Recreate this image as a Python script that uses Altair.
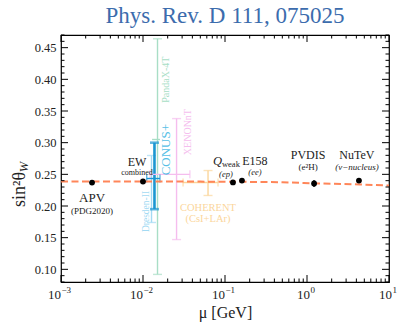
import altair as alt
import pandas as pd

SERIF = "Liberation Serif"

# Precision determinations (black points)
pt_name = ["APV", "EW", "Qweak", "E158", "PVDIS", "NuTeV"]
pt_mu = [0.00239, 0.0100, 0.125, 0.161, 1.22, 4.3]
pt_val = [0.2370, 0.2387, 0.2372, 0.2402, 0.2355, 0.2402]
pt_err = [0.0018, 0.0016, 0.0022, 0.0020, 0.0050, 0.0020]

# CEvNS determinations: vertical bands
ce_name = ["PandaX-4T", "XENONnT", "COHERENT", "Dresden-II", "CONUS+"]
ce_mu = [0.01503, 0.02566, 0.0621, 0.0127, 0.0138]
ce_lo = [0.092, 0.147, 0.2166, 0.174, 0.195]
ce_hi = [0.464, 0.338, 0.256, 0.2797, 0.300]

# CEvNS determinations: momentum-transfer ranges
hb_name = ["PandaX-4T", "XENONnT", "COHERENT", "CONUS+"]
hb_val = [0.305, 0.250, 0.237, 0.2434]
hb_lo = [0.0129, 0.0122, 0.0308, 0.0111]
hb_hi = [0.0161, 0.0373, 0.0822, 0.0161]

# SM running of the weak mixing angle
run_mu = [0.001, 0.01, 0.05, 0.15, 0.5, 1.4, 4.4, 10.0]
run_val = [0.2386, 0.2386, 0.2385, 0.2382, 0.2374, 0.2356, 0.2340, 0.2323]

# Axis ticks and decade labels
x_major = [0.001, 0.01, 0.1, 1.0, 10.0]
x_exp = ["−3", "−2", "−1", "0", "1"]
x_minor = [k * 10.0 ** d for d in range(-3, 1) for k in range(2, 10)]
y_major = [0.10, 0.15, 0.20, 0.25, 0.30, 0.35, 0.40, 0.45]
y_minor = [round(0.08 + 0.01 * i, 2) for i in range(40)]
y_minor = [v for v in y_minor if all(abs(v - m) > 1e-6 for m in y_major)]

bar_color = {
    "PandaX-4T": "#a8dec6",
    "XENONnT": "#f5bdee",
    "COHERENT": "#fbd69b",
    "Dresden-II": "#a3daf3",
    "CONUS+": "#1b96d2",
}
text_color = dict(bar_color, **{"CONUS+": "#57bfe6"})
bar_width = {"CONUS+": 2.6}
INK = "#222222"

W, H = 328, 247
xs = alt.Scale(type="log", domain=[1e-3, 10], nice=False)
ys = alt.Scale(domain=[0.08, 0.47], nice=False, zero=False)

x_axis = alt.Axis(values=x_major, title="μ [GeV]", labels=False,
                  titleFontSize=16, titlePadding=22)
y_axis = alt.Axis(
    values=y_major, format=".2f", title="sin²θ", labelFontSize=12.5,
    labelPadding=5, titleFontSize=18, titleAngle=270, titleX=-37, titleY=154,
    titleAlign="center", titleBaseline="alphabetic",
)


# Every layer shares the same scales and axis definitions
def xq(f):
    return alt.X(f, type="quantitative", scale=xs, axis=x_axis)


def yq(f):
    return alt.Y(f, type="quantitative", scale=ys, axis=y_axis)


layers = []

# CEvNS vertical error bars with caps
for i, n in enumerate(ce_name):
    d = pd.DataFrame({"mu": [ce_mu[i]], "lo": [ce_lo[i]], "hi": [ce_hi[i]]})
    sw = bar_width.get(n, 1.4)
    c = bar_color[n]
    layers.append(alt.Chart(d).mark_rule(color=c, strokeWidth=sw).encode(
        x=xq("mu"), y=yq("lo"), y2="hi"))
    for end in ["lo", "hi"]:
        layers.append(alt.Chart(d).mark_tick(
            color=c, orient="horizontal", size=9, thickness=sw).encode(
            x=xq("mu"), y=yq(end)))

# CEvNS horizontal ranges
for i, n in enumerate(hb_name):
    d = pd.DataFrame({"lo": [hb_lo[i]], "hi": [hb_hi[i]], "v": [hb_val[i]]})
    c = bar_color[n]
    layers.append(alt.Chart(d).mark_rule(color=c, strokeWidth=1.4).encode(
        x=xq("lo"), x2="hi", y=yq("v")))
    if n != "PandaX-4T":
        for end in ["lo", "hi"]:
            layers.append(alt.Chart(d).mark_tick(
                color=c, orient="vertical", size=8, thickness=1.4).encode(
                x=xq(end), y=yq("v")))

# SM running curve
run_df = pd.DataFrame({"mu": run_mu, "v": run_val})
layers.append(alt.Chart(run_df).mark_line(
    color="#ff7f50", strokeWidth=2, strokeDash=[7, 3.5], interpolate="monotone",
    opacity=0.95).encode(x=xq("mu"), y=yq("v")))

# Precision points
pt_df = pd.DataFrame({"mu": pt_mu, "v": pt_val,
                      "lo": [v - e for v, e in zip(pt_val, pt_err)],
                      "hi": [v + e for v, e in zip(pt_val, pt_err)]})
layers.append(alt.Chart(pt_df).mark_rule(color="black", strokeWidth=2.2).encode(
    x=xq("mu"), y=yq("lo"), y2="hi"))
layers.append(alt.Chart(pt_df).mark_point(
    filled=True, color="black", size=34, opacity=1).encode(x=xq("mu"), y=yq("v")))


def note(text, mu, val, dx=0, dy=0, size=12, color=INK, style="normal",
         angle=0, align="center", baseline="middle"):
    d = pd.DataFrame({"mu": [mu], "v": [val]})
    return alt.Chart(d).mark_text(
        text=text, dx=dx, dy=dy, fontSize=size, color=color, fontStyle=style,
        angle=angle, align=align, baseline=baseline, font=SERIF).encode(
        x=xq("mu"), y=yq("v"))


P = {n: (pt_mu[i], pt_val[i]) for i, n in enumerate(pt_name)}
layers += [
    note("APV", *P["APV"], dy=15, size=13),
    note("(PDG2020)", *P["APV"], dy=28, size=9),
    note("EW", *P["EW"], dx=-6, dy=-19, size=12),
    note("combined", *P["EW"], dx=-6, dy=-8, size=8),
    note("Q", *P["Qweak"], dx=-11, dy=-17, size=12.5, style="italic",
         align="right", baseline="alphabetic"),
    note("weak", *P["Qweak"], dx=-11, dy=-15, size=8.5, align="left",
         baseline="alphabetic"),
    note("(ep)", *P["Qweak"], dx=-7, dy=-8, size=8.5, style="italic"),
    note("E158", *P["E158"], dx=13, dy=-20, size=12),
    note("(ee)", *P["E158"], dx=13, dy=-9, size=8.5, style="italic"),
    note("PVDIS", *P["PVDIS"], dx=-6, dy=-29, size=12),
    note("(e²H)", *P["PVDIS"], dx=-6, dy=-17, size=9),
    note("NuTeV", *P["NuTeV"], dx=-2, dy=-26, size=12),
    note("(ν−nucleus)", *P["NuTeV"], dx=-2, dy=-14, size=9, style="italic"),
    note("COHERENT", 0.0621, 0.237, dy=25, size=10.5, color=text_color["COHERENT"]),
    note("(CsI+LAr)", 0.0621, 0.237, dy=36, size=10.5, color=text_color["COHERENT"]),
    note("PandaX-4T", 0.0189, 0.3995, size=10, angle=270, color=text_color["PandaX-4T"]),
    note("XENONnT", 0.0349, 0.3167, size=10, angle=270, color=text_color["XENONnT"]),
    note("CONUS+", 0.0190, 0.289, size=13, angle=270, color=text_color["CONUS+"]),
    note("Dresden-II", 0.01089, 0.1913, size=9.5, angle=270, color=text_color["Dresden-II"]),
]

# Subscript of the y-axis title
layers.append(alt.Chart(pd.DataFrame({"a": [0]})).mark_text(
    text="W", angle=270, fontSize=12.5, font=SERIF, fontStyle="italic", color=INK,
    baseline="alphabetic", align="center").encode(
    x=alt.value(-33), y=alt.value(132)))

# Decade labels 10^n on the x axis, base and exponent set separately
lab_df = pd.DataFrame({"t": x_major, "e": x_exp,
                       "neg": [e.startswith("−") for e in x_exp]})
for neg, shift in [(True, 0), (False, 3)]:
    sub = alt.Chart(lab_df).transform_filter(
        "datum.neg" if neg else "!datum.neg")
    layers.append(sub.mark_text(
        text="10", align="right", baseline="alphabetic", dx=shift, fontSize=13,
        font=SERIF, color=INK).encode(x=xq("t"), y=alt.value(H + 17)))
    layers.append(sub.mark_text(
        align="left", baseline="alphabetic", dx=shift + 0.5, fontSize=9,
        font=SERIF, color=INK).encode(
        x=xq("t"), y=alt.value(H + 11), text="e:N"))


# Inward ticks on all four sides
def xticks(vals, size):
    d = pd.DataFrame({"t": vals})
    bottom = alt.Chart(d).mark_rule(color="black", strokeWidth=1).encode(
        x=xq("t"), y=alt.value(H), y2=alt.value(H - size))
    top = alt.Chart(d).mark_rule(color="black", strokeWidth=1).encode(
        x=xq("t"), y=alt.value(0), y2=alt.value(size))
    return [bottom, top]


def yticks(vals, size):
    d = pd.DataFrame({"t": vals})
    left = alt.Chart(d).mark_rule(color="black", strokeWidth=1).encode(
        y=yq("t"), x=alt.value(0), x2=alt.value(size))
    right = alt.Chart(d).mark_rule(color="black", strokeWidth=1).encode(
        y=yq("t"), x=alt.value(W), x2=alt.value(W - size))
    return [left, right]


layers += xticks(x_major, 7) + xticks(x_minor, 3.5)
layers += yticks(y_major, 7) + yticks(y_minor, 3.5)

chart = alt.layer(*layers).properties(
    width=W, height=H,
    autosize=alt.AutoSizeParams(type="none"),
    padding={"left": 61, "top": 35, "right": 10, "bottom": 45},
    title=alt.TitleParams("Phys. Rev. D 111, 075025", fontSize=23, font=SERIF,
                          fontWeight="normal", color="#3c6cad", offset=7),
).configure_view(stroke="black", strokeWidth=1.2).configure_axis(
    domain=False, ticks=False, grid=False, labelFont=SERIF, titleFont=SERIF,
    labelColor=INK, titleColor=INK, titleFontWeight="normal",
)

chart.save("out.html", embed_options={"renderer": "svg", "actions": False})
